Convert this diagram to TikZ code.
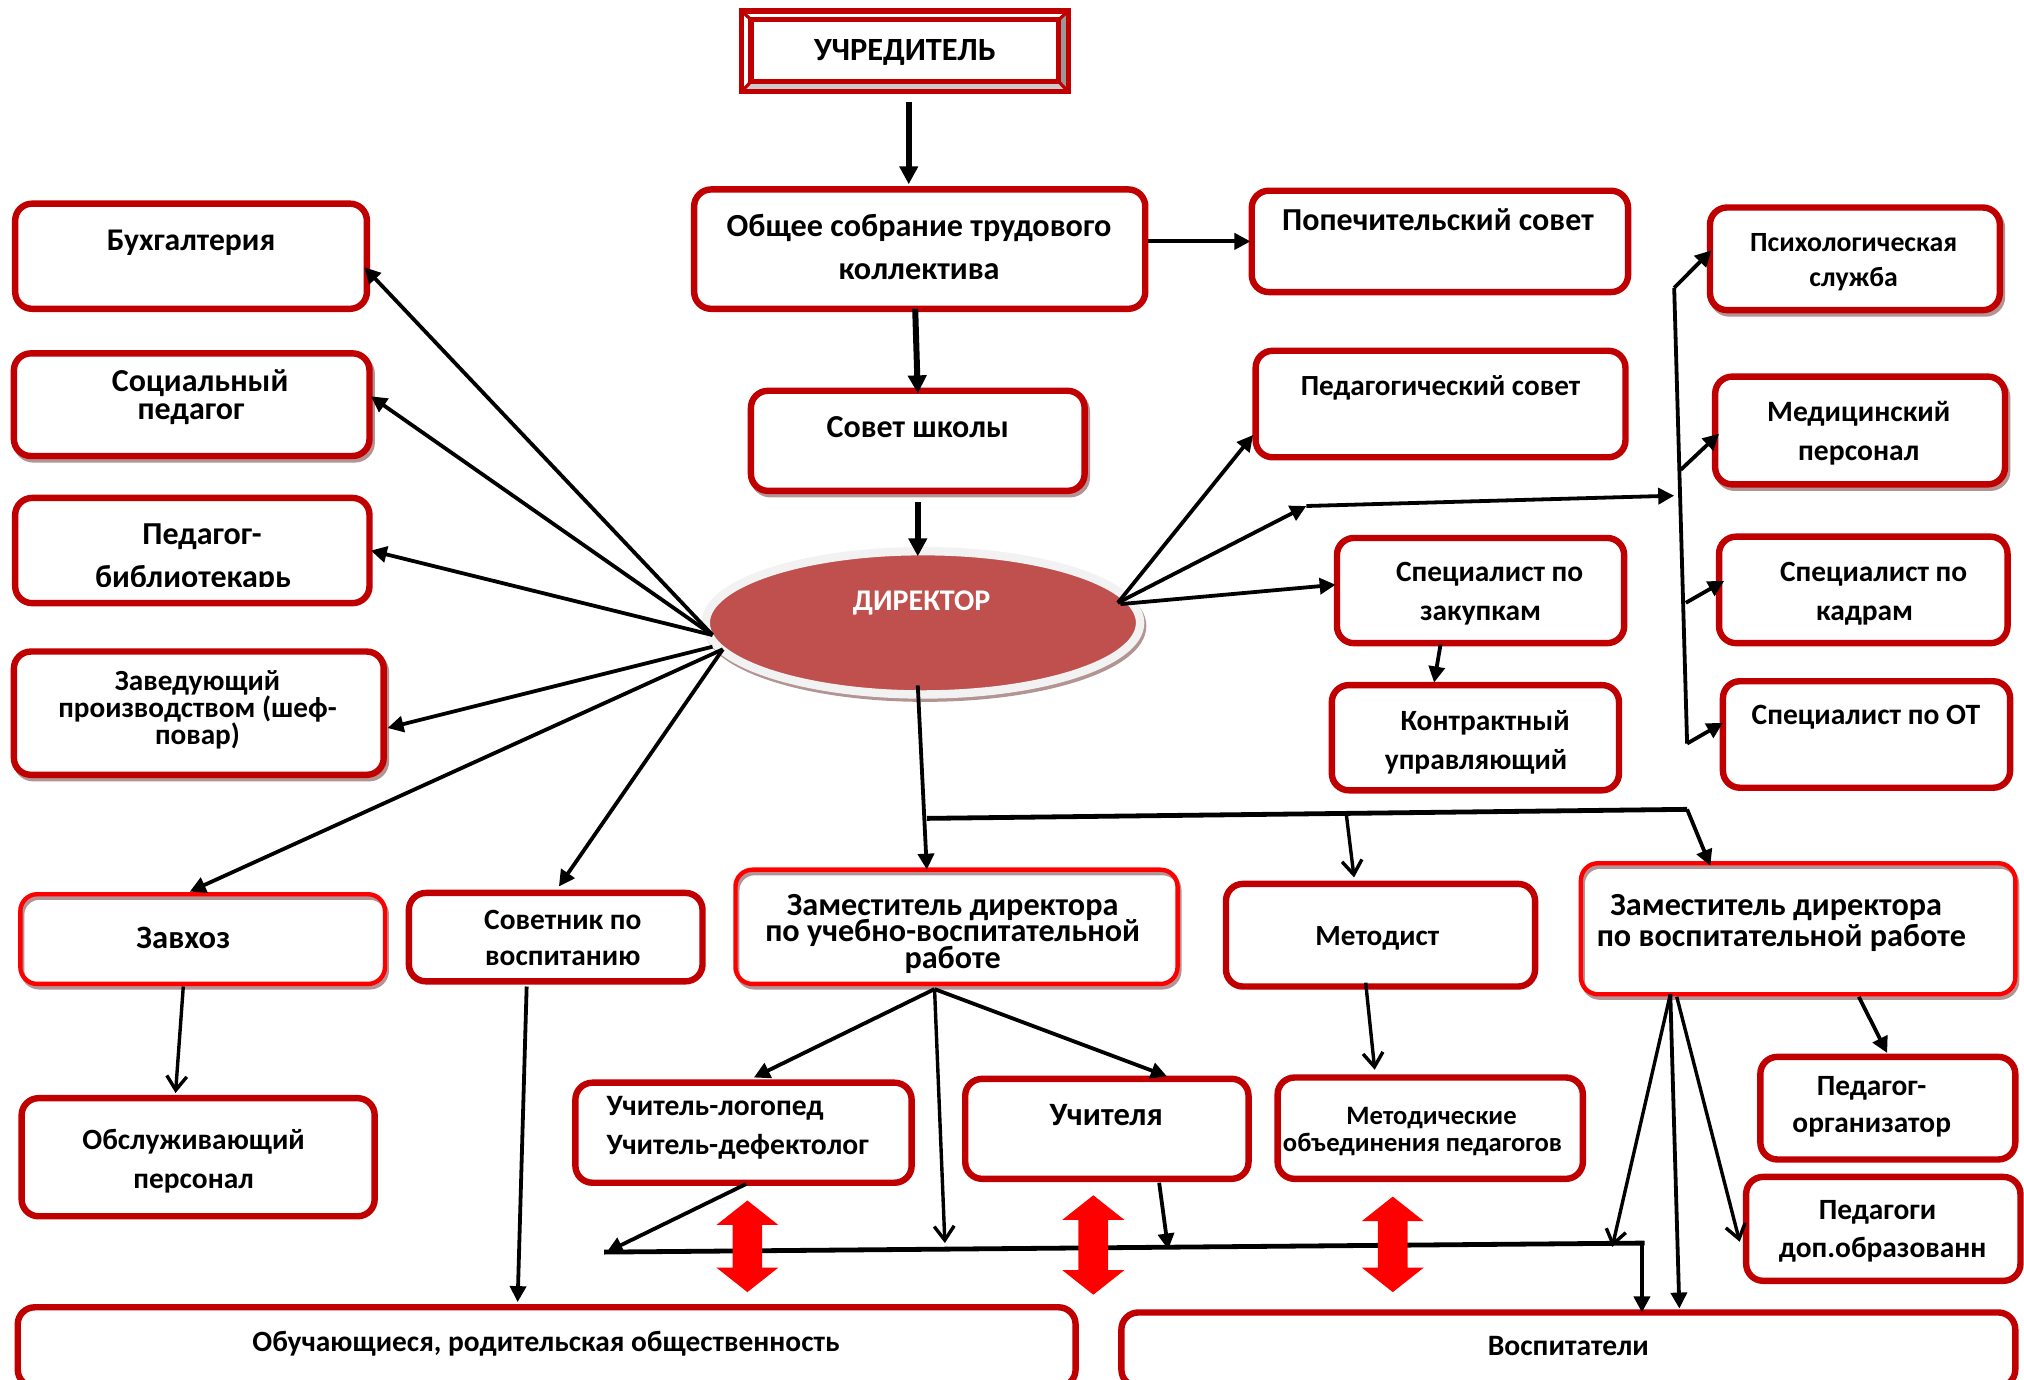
\documentclass[tikz,border=0pt]{standalone}
\usepackage{fontspec}
\setmainfont{Carlito}
\usetikzlibrary{arrows.meta,calc,shapes.geometric,shadows}
\definecolor{brd}{HTML}{C00000}
\definecolor{bright}{HTML}{FF0000}
\definecolor{shd}{HTML}{B39393}
\definecolor{ell}{HTML}{C0504D}
\tikzset{
 baseb/.style={rectangle,rounded corners=8.5pt,inner sep=0pt,outer sep=0pt,font=\bfseries,text=black},
 rbox/.style={baseb,draw=brd,line width=3.2pt,fill=white},
 sbox/.style={rbox,general shadow={shadow xshift=1.2pt,shadow yshift=-1.8pt,fill=shd,draw=shd,line width=3pt}},
 bbox/.style={baseb,draw=bright,line width=2.2pt,preaction={fill=white},preaction={draw=shd,line width=2pt,transform canvas={xshift=1pt,yshift=-1.8pt}}},
 ebox/.style={ellipse,inner sep=0pt,outer sep=0pt,font=\bfseries,fill=ell,draw=white!95!black,line width=4.2pt,general shadow={shadow xshift=1pt,shadow yshift=-1.6pt,fill=shd,draw=shd,line width=4.2pt}},
 ibox/.style={rectangle,inner sep=0pt,outer sep=0pt,font=\bfseries,draw=brd,line width=2.6pt,fill=white},
 farr/.style={line width=1.9pt,-{Triangle[length=8pt,width=8pt]}},
 thick arr/.style={line width=3pt,-{Triangle[length=9pt,width=9pt]}},
 oarr/.style={line width=1.7pt,-{Straight Barb[length=7pt,width=10pt]}},
 plainl/.style={line width=1.9pt},
 busl/.style={line width=2.4pt}
}
\newcommand\lsp[1]{\rule{\dimexpr#1\dimexpr0.6454pt\relax\relax}{0pt}}
\newcommand\bx[6]{\tikzset{curbox/.style={#1}}\def\curname{#2}%
 \pgfmathsetmacro\curcx{(#3+#5)/2}\pgfmathsetmacro\curcy{(#4+#6)/2}%
 \pgfmathsetmacro\curw{(#5-#3-1.5)*0.6454}\pgfmathsetmacro\curh{(#6-#4-1.5)*0.6454}\bxB}
\newcommand\bxB[5]{%
 \pgfmathsetmacro\curdx{(#1-\curcx)*0.6454*2}\pgfmathsetmacro\curdy{(\curcy-#2-5.7)*0.6454}\pgfmathsetmacro\curbl{#4*0.6454}%
 \node[curbox,minimum width=\curw pt,minimum height=\curh pt] (\curname) at (\curcx,\curcy)
 {\raisebox{\curdy pt}[0pt][0pt]{\hbox to 0pt{\hss\kern\curdx pt\parbox[c]{400pt}{\centering\fontsize{#3}{\curbl pt}\selectfont\lineskiplimit=-20pt #5}\hss}}};}
\newcommand\redarr[3]{\fill[bright] (#1,#2)--(#1+24,#2+19)--(#1+11.5,#2+19)--(#1+11.5,#3-19)--(#1+24,#3-19)--(#1,#3)--(#1-24,#3-19)--(#1-11.5,#3-19)--(#1-11.5,#2+19)--(#1-24,#2+19)--cycle;}
\begin{document}
\begin{tikzpicture}[x=0.6454pt,y=-0.6454pt]
\useasboundingbox (0,0) rectangle (1568,1068.4);
\clip (0,0) rectangle (1568,1068.4);
% founder frame
\fill[white] (574.5,8.5) rectangle (827.5,71);
\fill[gray!80] (827.5,8.5)--(820,15.5)--(820,63)--(827.5,71)--cycle;
\fill[gray!40] (574.5,71)--(582,63)--(820,63)--(827.5,71)--cycle;
\draw[brd,line width=1.6pt] (574.5,8.5)--(582,15.5) (827.5,8.5)--(820,15.5) (574.5,71)--(582,63) (827.5,71)--(820,63);
\draw[brd,line width=2.6pt] (574.5,8.5) rectangle (827.5,71);
\bx{ibox}{uchr}{581}{14.5}{821}{64}{701}{39}{16.2}{24}{УЧРЕДИТЕЛЬ}
% left column
\bx{rbox}{buh}{11}{157}{285}{240}{148}{186}{15.8}{24}{Бухгалтерия}
\bx{sbox}{soc}{10}{273}{287}{354}{148}{306}{16}{22}{\lsp{14}Социальный\\педагог}
\bx{rbox}{bib}{11}{385}{287}{468}{149.5}{430.5}{16}{33}{\lsp{14}Педагог-\\библиотекарь}
\fill[white] (60,455) rectangle (250,464);
\bx{sbox}{zav}{10}{504}{298}{601}{153}{548}{14.6}{21}{Заведующий\\производством (шеф-\\повар)}
\bx{bbox}{zvh}{15}{692}{299}{763}{142}{725}{16.3}{24}{Завхоз}
\bx{rbox}{obs}{16}{850}{291}{943}{150}{898}{14.7}{30}{Обслуживающий\\персонал}
\bx{rbox}{sovt}{316}{691}{545}{761}{436}{725}{14.7}{28}{Советник по\\воспитанию}
% centre column
\bx{rbox}{gen}{537}{146}{888}{240}{712}{189.5}{16.1}{33}{Общее собрание трудового\\коллектива}
\bx{sbox}{shk}{581}{302}{841}{381}{711}{329}{16}{24}{Совет школы}
\bx{ebox}{dir}{546}{426.25}{884}{538.75}{714}{465}{15}{24}{\color{white}ДИРЕКТОР}
\bx{bbox}{zam}{569}{673}{913}{763}{738}{721.5}{16.1}{20.5}{Заместитель директора\\по учебно-воспитательной\\работе}
\bx{rbox}{met}{949}{684}{1190}{765}{1067}{725}{14.6}{24}{Методист}
\bx{bbox}{zvr}{1224}{668}{1562}{771}{1380}{713}{16.1}{24}{Заместитель директора\lsp{8}\\по воспитательной работе}
% right column
\bx{rbox}{pop}{969}{147}{1262}{227}{1114}{168}{16}{24}{Попечительский совет}
\bx{rbox}{ped}{972}{271}{1260}{355}{1116}{299}{14.6}{24}{Педагогический совет}
\bx{rbox}{zak}{1035}{416}{1259}{499}{1154}{458}{14.7}{30}{Специалист по\\\lsp{-14}закупкам}
\bx{rbox}{kon}{1031}{530}{1255}{613}{1150.5}{573}{14.7}{30}{Контрактный\\\lsp{-14}управляющий}
\bx{sbox}{psy}{1324}{160}{1550}{241}{1436}{201.5}{13.9}{27}{Психологическая\\служба}
\bx{sbox}{medp}{1328}{291}{1554}{376}{1440}{334}{14.8}{30}{Медицинский\\персонал}
\bx{rbox}{kad}{1331}{415}{1556}{499}{1451.5}{458}{14.7}{30}{Специалист по\\\lsp{-14}кадрам}
\bx{rbox}{ott}{1334}{527}{1558}{611}{1445.5}{554}{14.75}{24}{Специалист по ОТ}
% lower rows
\bx{rbox}{log}{445}{838}{707}{917}{571.5}{872}{14.8}{30}{Учитель-логопед\lsp{35}\\Учитель-дефектолог}
\bx{rbox}{uch}{747}{835}{968}{914}{857}{862}{16.3}{24}{Учителя}
\bx{rbox}{mob}{989}{834}{1227}{914}{1102}{874.5}{13.3}{21}{\lsp{14}Методические\\объединения педагогов}
\bx{rbox}{pdo}{1363}{818}{1562}{899}{1450}{855.5}{14.7}{29}{Педагог-\\организатор}
\bx{rbox}{pdd}{1352}{911}{1566}{993}{1458.5}{952}{14.7}{30}{Педагоги\lsp{8}\\доп.образованн}
\bx{rbox}{obu}{13}{1012}{834}{1075}{423}{1039}{14.7}{24}{Обучающиеся, родительская общественность}
\bx{rbox}{vos}{868}{1016}{1562}{1075}{1215}{1041}{14.8}{24}{Воспитатели}
% named hubs
\coordinate (hubL) at (552,492);
\coordinate (hubLa) at (552,501);
\coordinate (hubLb) at (560,503);
\coordinate (hubR) at (866,467);
\coordinate (hubRb) at (868,468);
\coordinate (brk) at (1012,392);
\coordinate (busin) at (1297,384);
\coordinate (bust) at (1297,223);
\coordinate (busb) at (1307,576);
\coordinate (busm) at (1302,364);
\coordinate (busk) at (1306,467);
\coordinate (fka) at (718,634);
\coordinate (fkb) at (1307,627);
\coordinate (fkc) at (1043,631);
\coordinate (hla) at (468,970);
\coordinate (hlb) at (1274,963);
\coordinate (hlz) at (1272,963);
\coordinate (hlc) at (470,970);
\coordinate (hld) at (732,963);
\coordinate (hle) at (905,968);
\coordinate (hlf) at (1249,966);
% connectors
\draw[thick arr] ($(uchr.south)+(3,16)$) -- ($(gen.north)+(-8.5,-4)$);
\draw[thick arr] ($(gen.south)+(-3.5,0)$) -- ($(shk.north)+(0,2)$);
\draw[thick arr] ($(shk.south)+(0,9)$) -- ($(dir.north)+(-4,4)$);
\draw[farr] ($(gen.east)+(2,-6)$) -- ($(pop.west)+(-1,0)$);
\draw[farr] (hubL) -- ($(buh.east)+(-2,8.5)$);
\draw[farr] (hubL) -- ($(soc.east)+(1,-6.5)$);
\draw[farr] (hubL) -- ($(bib.east)+(1,0)$);
\draw[farr] (hubLa) -- ($(zav.east)+(3,11.5)$);
\draw[farr] (hubLb) -- ($(zvh.north)+(-10,-2)$);
\draw[farr] (hubLb) -- ($(sovt.north)+(2.5,-5)$);
\draw[farr] (hubR) -- ($(ped.west)+(-2,24)$);
\draw[farr] (hubR) -- (brk);
\draw[farr] (hubRb) -- ($(zak.west)+(-1,-4.5)$);
\draw[farr] (brk) -- (busin);
\draw[plainl] (bust) -- (busb);
\draw[farr] (bust) -- ($(psy.west)+(1,-6.5)$);
\draw[farr] (busm) -- ($(medp.west)+(3,2.5)$);
\draw[farr] (busk) -- ($(kad.west)+(4,-7)$);
\draw[farr] (busb) -- ($(ott.west)+(0,-9)$);
\draw[farr] ($(zak.south)+(-31,1)$) -- ($(kon.north)+(-32,-2)$);
\draw[farr] ($(dir.south)+(-4,-7)$) -- ($(zam.north)+(-23,0)$);
\draw[busl] (fka) -- (fkb);
\draw[farr] (fkb) -- ($(zvr.north)+(-68,2)$);
\draw[oarr] (fkc) -- ($(met.north)+(-20.5,-5)$);
\coordinate (zamh) at ($(zam.south)+(-17,4)$);
\draw[farr] (zamh) -- ($(log.north)+(8,-4)$);
\draw[farr] (zamh) -- ($(uch.north)+(46.5,-2)$);
\draw[oarr] (zamh) -- (hld);
\draw[oarr] ($(zvh.south)+(-15,2)$) -- ($(obs.north)+(-17.5,-4)$);
\draw[farr] ($(sovt.south)+(-22.5,4)$) -- ($(obu.north)+(-22.5,-4)$);
\draw[oarr] ($(met.south)+(-11.5,-3)$) -- ($(mob.north)+(-43,-6)$);
\coordinate (zvhub) at ($(zvr.south)+(-99,0)$);
\draw[oarr] (zvhub) -- (hlf);
\draw[farr] (zvhub) -- ($(vos.north)+(86,-3)$);
\draw[oarr] ($(zvr.south)+(-94,2)$) -- ($(pdd.west)+(-5,10)$);
\draw[farr] ($(zvr.south)+(47,2)$) -- ($(pdo.north)+(-.5,-3)$);
\draw[busl] (hla) -- (hlb);
\draw[farr] ($(log.south)+(2,1)$) -- (hlc);
\draw[farr] ($(uch.south)+(40.5,3)$) -- (hle);
\draw[farr] (hlz) -- ($(vos.north)+(57,0)$);
% two-way red arrows
\redarr{579}{930}{1001}
\redarr{847}{926}{1003}
\redarr{1079}{927}{1001}
\end{tikzpicture}
\end{document}
